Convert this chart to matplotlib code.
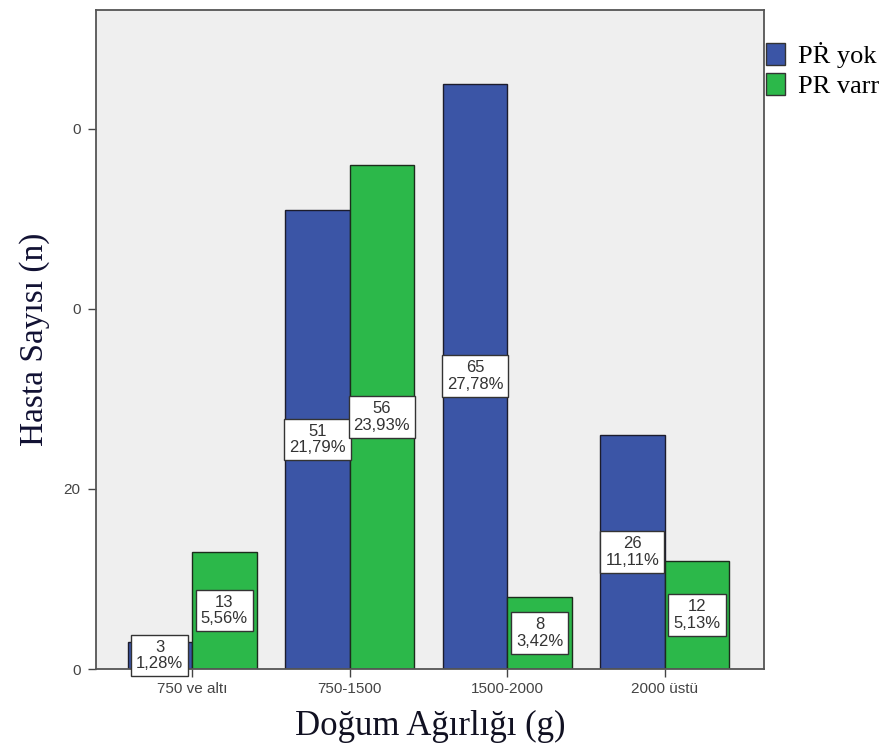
import matplotlib.pyplot as plt
from matplotlib.patches import Patch
import numpy as np

# data
categories = ['750 ve altı', '750-1500', '1500-2000', '2000 üstü']
pr_yok = [3, 51, 65, 26]
pr_var = [13, 56, 8, 12]
pct_yok = ['1,28%', '21,79%', '27,78%', '11,11%']
pct_var = ['5,56%', '23,93%', '3,42%', '5,13%']
ytick_vals = [0, 20, 40, 60]
ytick_text = ['0', '20', '0', '0']
series_names = ['PṘ yok', 'PR varr']

blue = '#3b55a6'
green = '#2cb84a'

fig = plt.figure(figsize=(8.93, 7.56), dpi=100)
ax = fig.add_axes([0.1075, 0.115, 0.748, 0.872])
ax.set_facecolor('#efefef')

x = np.arange(len(categories))
w = 0.41
ax.bar(x - w / 2, pr_yok, w, color=blue, edgecolor='#1c1c2c', linewidth=1.0)
ax.bar(x + w / 2, pr_var, w, color=green, edgecolor='#1c2c1c', linewidth=1.0)

# value boxes in the middle of each bar
box = dict(boxstyle='square,pad=0.3', facecolor='white', edgecolor='#333333', linewidth=1.0)
for i in range(len(categories)):
    ax.text(x[i] - w / 2, pr_yok[i] / 2, f"{pr_yok[i]}\n{pct_yok[i]}", ha='center', va='center',
            fontsize=12, family='Liberation Sans', color='#333333', bbox=box, clip_on=False,
            linespacing=1.15)
    ax.text(x[i] + w / 2, pr_var[i] / 2, f"{pr_var[i]}\n{pct_var[i]}", ha='center', va='center',
            fontsize=12, family='Liberation Sans', color='#333333', bbox=box, clip_on=False,
            linespacing=1.15)

ax.set_xlim(-0.61, 3.63)
ax.set_ylim(0, 73.2)
ax.set_xticks(x)
ax.set_xticklabels(categories, fontsize=11, family='Liberation Sans', color='#444444')
ax.set_yticks(ytick_vals)
ax.set_yticklabels(ytick_text, fontsize=11, family='Liberation Sans', color='#444444')
ax.tick_params(axis='both', length=6, width=1, color='#444444')
ax.tick_params(axis='y', pad=5)

for s in ['left', 'bottom', 'right', 'top']:
    ax.spines[s].set_color('#555555')
    ax.spines[s].set_linewidth(1.3)

ax.set_ylabel('Hasta Sayısı (n)', fontsize=24, family='Liberation Serif', color='#111133', labelpad=10)
ax.set_xlabel('Doğum Ağırlığı (g)', fontsize=25, family='Liberation Serif', color='#111122', labelpad=10)

handles = [Patch(facecolor=blue, edgecolor='#333333'), Patch(facecolor=green, edgecolor='#333333')]
fig.legend(handles, series_names, loc='upper left', bbox_to_anchor=(0.855, 0.948),
           frameon=False, prop={'family': 'Liberation Serif', 'size': 19},
           handlelength=0.7, handleheight=0.9, handletextpad=0.5, labelspacing=0.2,
           borderaxespad=0, borderpad=0.1)

fig.savefig('out.png', dpi=100)
